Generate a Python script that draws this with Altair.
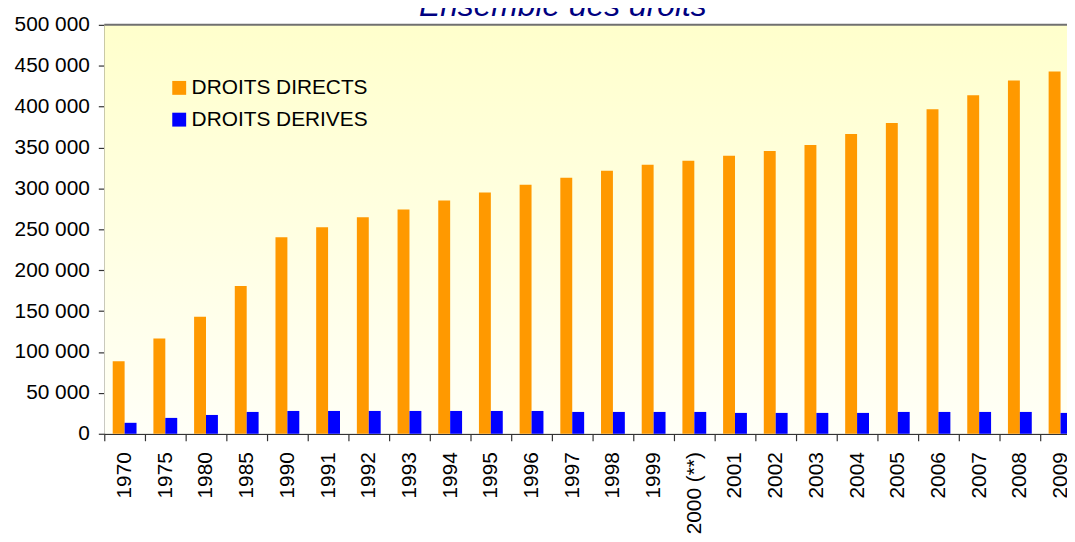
import altair as alt
import pandas as pd

years = ["1970", "1975", "1980", "1985", "1990", "1991", "1992", "1993", "1994",
         "1995", "1996", "1997", "1998", "1999", "2000 (**)", "2001", "2002",
         "2003", "2004", "2005", "2006", "2007", "2008", "2009"]
directs = [88600, 116500, 143200, 180800, 240300, 252400, 264600, 274300, 285200,
           294900, 304600, 313100, 321600, 328900, 333700, 339800, 345900,
           353200, 366500, 379900, 396900, 413800, 432000, 443000]
derives = [13400, 19400, 23000, 26700, 27900, 27900, 27900, 27900, 27900,
           27900, 27900, 26700, 26700, 26700, 26700, 25500, 25500,
           25500, 25500, 26700, 26700, 26700, 26700, 25500]
series = ["DROITS DIRECTS", "DROITS DERIVES"]
colors = ["#FF9900", "#0000FF"]
y_ticks = list(range(0, 500001, 50000))
title_text = "Ensemble des droits"

rows = []
for i, yr in enumerate(years):
    rows.append({"annee": yr, "serie": series[0], "valeur": directs[i]})
    rows.append({"annee": yr, "serie": series[1], "valeur": derives[i]})
df = pd.DataFrame(rows)

W_VIEW = 970
RANGE = 984
H = 412
FONT = "Liberation Sans"

one = pd.DataFrame({"a": [0]})

bg = alt.Chart(one).mark_rect(
    color=alt.LinearGradient(
        gradient="linear",
        stops=[alt.GradientStop(color="#FFFFCC", offset=0),
               alt.GradientStop(color="#FFFFF7", offset=1)],
        x1=0, x2=0, y1=0, y2=1,
    )
).encode(x=alt.value(0), x2=alt.value(RANGE), y=alt.value(0), y2=alt.value(H))

border = alt.Chart(one).mark_rule(color="#707070", strokeWidth=2).encode(
    x=alt.value(0), x2=alt.value(RANGE), y=alt.value(0)
)

bars = alt.Chart(df).mark_bar().encode(
    x=alt.X("annee:N", sort=years,
            scale=alt.Scale(range=[0, RANGE], paddingInner=0, paddingOuter=0),
            axis=alt.Axis(title=None, labelAngle=-90, tickBand="extent",
                          tickSize=7, labelPadding=11, labelFontSize=21)),
    xOffset=alt.XOffset("serie:N", sort=series,
                        scale=alt.Scale(paddingInner=0, paddingOuter=0.708)),
    y=alt.Y("valeur:Q", scale=alt.Scale(domain=[0, 500000], nice=False),
            axis=alt.Axis(title=None, values=y_ticks, grid=False, tickSize=6,
                          labelPadding=9, labelFontSize=21,
                          labelExpr="replace(format(datum.value, ','), regexp(',', 'g'), ' ')")),
    color=alt.Color("serie:N", sort=series,
                    scale=alt.Scale(domain=series, range=colors),
                    legend=alt.Legend(title=None, orient="none", legendX=65, legendY=53,
                                      symbolType="square", symbolSize=196,
                                      symbolStrokeWidth=0, labelFontSize=21,
                                      labelFont=FONT, labelColor="black",
                                      labelLimit=0,
                                      rowPadding=10, labelOffset=2, padding=0)),
)

title = alt.Chart(pd.DataFrame({"t": [title_text]})).mark_text(
    font=FONT, fontStyle="italic", fontSize=32, color="#000080",
    align="center", baseline="alphabetic"
).encode(text="t:N", x=alt.value(462), y=alt.value(-9))

chart = alt.layer(bg, border, bars, title).properties(
    width=W_VIEW, height=H,
    padding={"left": 97, "top": 15, "right": 0, "bottom": 99},
    autosize=alt.AutoSizeParams(type="none"),
).configure_view(stroke=None).configure_axis(
    labelFont=FONT, labelColor="black", domainColor="#333333",
    tickColor="#333333", domainWidth=1.5, tickWidth=1.2,
)

chart.save("out.html", embed_options={"renderer": "svg", "actions": False})
